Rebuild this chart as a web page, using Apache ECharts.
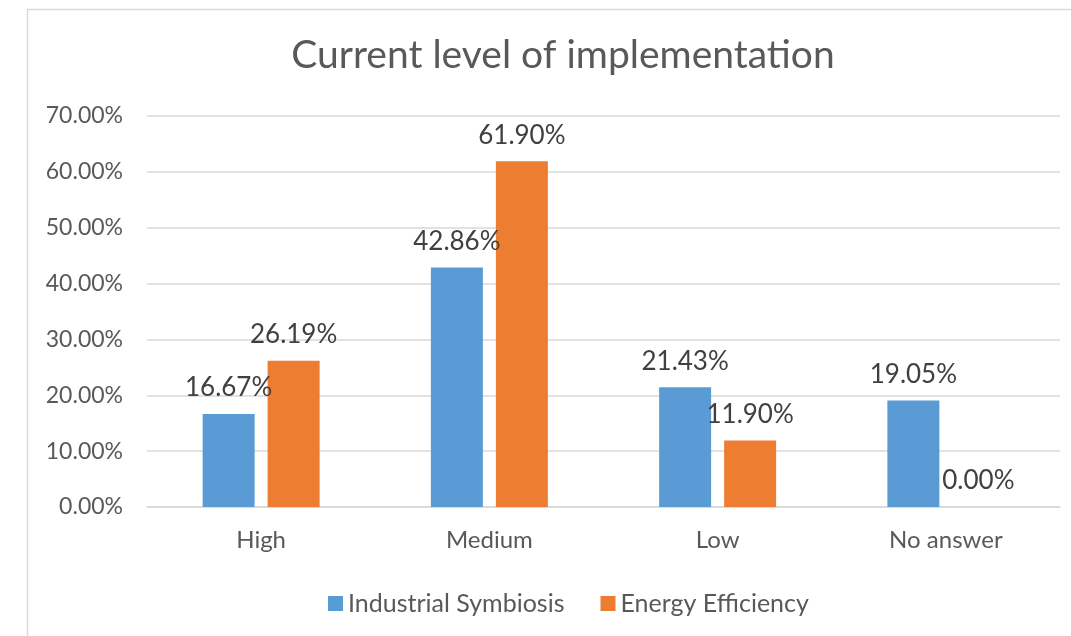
<!DOCTYPE html>
<html>
<head>
<meta charset="utf-8">
<script src="https://cdn.jsdelivr.net/npm/echarts@6/dist/echarts.min.js"></script>
<style>html,body{margin:0;padding:0;background:#fff}#c{width:1071px;height:636px}</style>
</head>
<body>
<div id="c"></div>
<script>
const categories = ["High", "Medium", "Low", "No answer"];
const industrialSymbiosis = [16.67, 42.86, 21.43, 19.05];
const energyEfficiency = [26.19, 61.90, 11.90, 0.00];
const yTicks = [0, 10, 20, 30, 40, 50, 60, 70];
const seriesNames = ["Industrial Symbiosis", "Energy Efficiency"];

const FONT = "Lato";
const chart = echarts.init(document.getElementById('c'), null, {renderer: 'canvas'});
const labelCfg = {
  show: true, position: 'top', distance: 13,
  formatter: p => p.value.toFixed(2) + '%',
  color: '#404040', fontFamily: FONT, fontSize: 26
};
chart.setOption({
  animation: false,
  backgroundColor: '#fff',
  graphic: [{
    type: 'rect', left: 25, top: 7, silent: true,
    shape: {x: 0, y: 0, width: 1100, height: 700},
    style: {fill: 'none', stroke: '#D9D9D9', lineWidth: 1.5}
  }],
  title: {
    text: 'Current level of implementation',
    left: 558, top: 31, textAlign: 'center',
    textStyle: {color: '#595959', fontFamily: FONT, fontSize: 39, fontWeight: 'normal'}
  },
  legend: {
    left: 323, top: 586,
    itemWidth: 15, itemHeight: 15, itemGap: 36,
    icon: 'rect',
    textStyle: {color: '#595959', fontFamily: FONT, fontSize: 25},
    data: seriesNames
  },
  grid: {left: 147, right: 11, top: 116, bottom: 129, containLabel: false},
  xAxis: {
    type: 'category', data: categories,
    axisLine: {lineStyle: {color: '#D9D9D9', width: 1.5}},
    axisTick: {show: false},
    axisLabel: {color: '#595959', fontFamily: FONT, fontSize: 24, margin: 21}
  },
  yAxis: {
    type: 'value', min: yTicks[0], max: yTicks[yTicks.length - 1], interval: 10,
    axisLine: {show: false}, axisTick: {show: false},
    splitLine: {lineStyle: {color: '#D9D9D9', width: 1.5}},
    axisLabel: {color: '#595959', fontFamily: FONT, fontSize: 23, margin: 24,
      formatter: v => v.toFixed(2) + '%'}
  },
  series: [
    {name: seriesNames[0], type: 'bar', data: industrialSymbiosis, barWidth: 52, barGap: '25%',
     itemStyle: {color: '#5B9BD5'}, label: labelCfg},
    {name: seriesNames[1], type: 'bar', data: energyEfficiency, barWidth: 52, barGap: '25%',
     itemStyle: {color: '#ED7D31'}, label: labelCfg}
  ]
});
</script>
</body>
</html>
